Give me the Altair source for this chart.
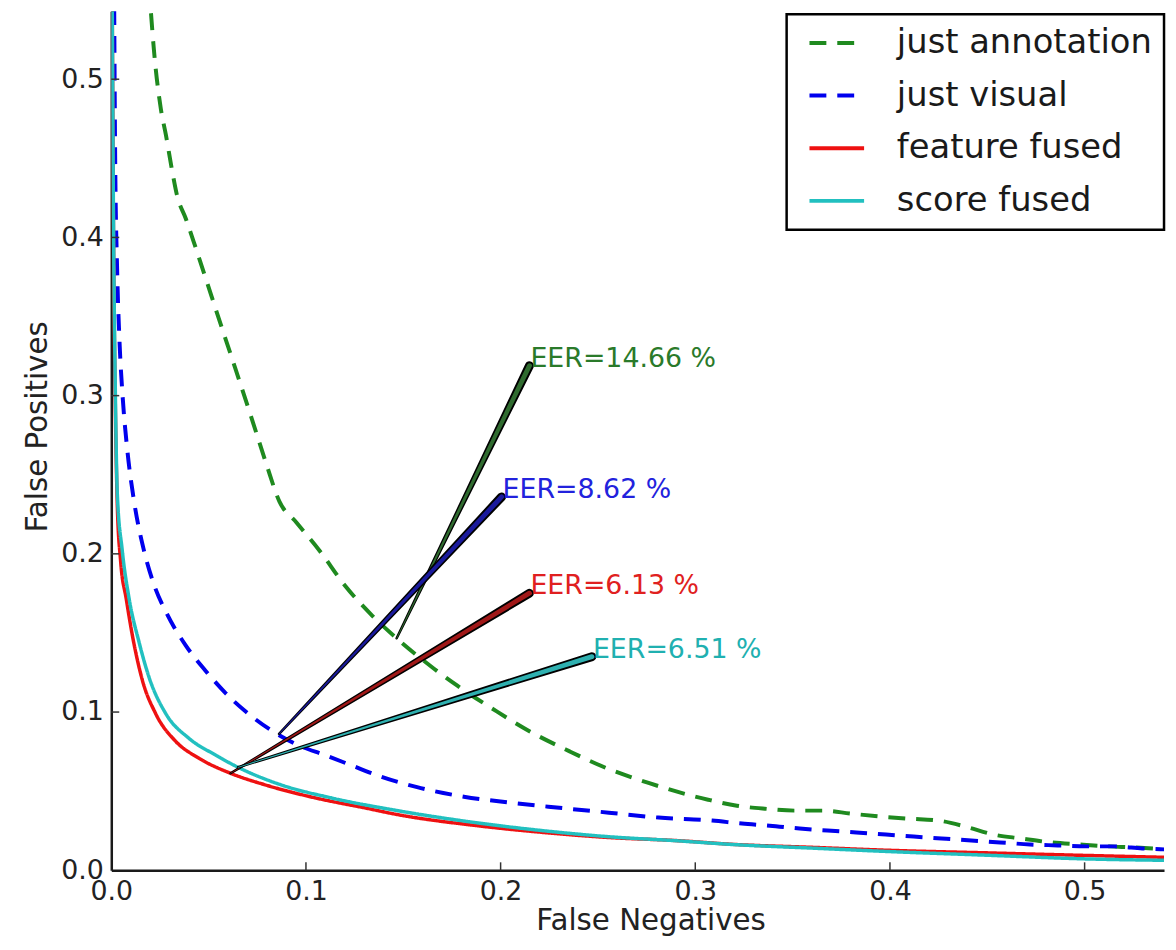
import altair as alt
import pandas as pd

# ---------------- data ----------------
series_names = ["just annotation", "just visual", "feature fused", "score fused"]
series_colors = ["#1f8a1f", "#0000ee", "#ee1111", "#22c0c0"]
series_dash = [[17, 11], [17, 11], [1, 0], [1, 0]]

ann_x = [0.0204, 0.0219, 0.0255, 0.0281, 0.0311, 0.0337, 0.0383, 0.0423, 0.0490, 0.0541,
         0.0635, 0.0728, 0.0796, 0.0864, 0.0950, 0.1070, 0.1200, 0.1340, 0.1466, 0.1658,
         0.1776, 0.1980, 0.2148, 0.2352, 0.2541, 0.2760, 0.2964, 0.3066, 0.3214, 0.3357,
         0.3510, 0.3653, 0.3801, 0.3954, 0.4097, 0.4250, 0.4388, 0.4531, 0.4673, 0.4827,
         0.4974, 0.5128, 0.5260, 0.5408]
ann_y = [0.5417, 0.5185, 0.4809, 0.4645, 0.4432, 0.4269, 0.4118, 0.3974, 0.3723, 0.3530,
         0.3180, 0.2830, 0.2570, 0.2330, 0.2200, 0.2020, 0.1800, 0.1610, 0.1466, 0.1274,
         0.1168, 0.1004, 0.0879, 0.0753, 0.0647, 0.0552, 0.0477, 0.0446, 0.0408, 0.0389,
         0.0377, 0.0377, 0.0358, 0.0339, 0.0326, 0.0314, 0.0276, 0.0226, 0.0201, 0.0176,
         0.0163, 0.0151, 0.0144, 0.0132]

vis_x = [0.0015, 0.0020, 0.0030, 0.0042, 0.0058, 0.0082, 0.0116, 0.0167, 0.0218, 0.0286,
         0.0383, 0.0485, 0.0587, 0.0689, 0.0821, 0.0959, 0.1097, 0.1230, 0.1367, 0.1571,
         0.1811, 0.2046, 0.2301, 0.2556, 0.2811, 0.3087, 0.3240, 0.3383, 0.3536, 0.3679,
         0.3827, 0.3980, 0.4122, 0.4265, 0.4418, 0.4566, 0.4719, 0.4862, 0.5005, 0.5153,
         0.5296, 0.5408]
vis_y = [0.5450, 0.4500, 0.3800, 0.3350, 0.3000, 0.2660, 0.2340, 0.2025, 0.1810, 0.1620,
         0.1420, 0.1260, 0.1120, 0.1005, 0.0885, 0.0791, 0.0728, 0.0665, 0.0600, 0.0525,
         0.0465, 0.0428, 0.0395, 0.0364, 0.0333, 0.0314, 0.0295, 0.0282, 0.0264, 0.0251,
         0.0239, 0.0226, 0.0213, 0.0201, 0.0188, 0.0176, 0.0163, 0.0157, 0.0151, 0.0151,
         0.0138, 0.0132]

feat_x = [0.0005, 0.0012, 0.0020, 0.0031, 0.0048, 0.0077, 0.0109, 0.0160, 0.0228, 0.0330,
          0.0449, 0.0613, 0.0790, 0.1046, 0.1300, 0.1470, 0.1878, 0.2219, 0.2556, 0.2898,
          0.3204, 0.3600, 0.4000, 0.4500, 0.5000, 0.5408]
feat_y = [0.5450, 0.3900, 0.3000, 0.2306, 0.1954, 0.1714, 0.1480, 0.1200, 0.0990, 0.0816,
          0.0709, 0.0613, 0.0540, 0.0458, 0.0395, 0.0352, 0.0282, 0.0239, 0.0207, 0.0188,
          0.0163, 0.0145, 0.0126, 0.0110, 0.0094, 0.0082]

score_x = [0.0005, 0.0012, 0.0020, 0.0031, 0.0056, 0.0092, 0.0143, 0.0194, 0.0280, 0.0398,
           0.0536, 0.0651, 0.0872, 0.1128, 0.1470, 0.1878, 0.2219, 0.2556, 0.2898, 0.3204,
           0.3600, 0.4000, 0.4500, 0.5000, 0.5408]
score_y = [0.5450, 0.4000, 0.3100, 0.2377, 0.2025, 0.1714, 0.1440, 0.1220, 0.0990, 0.0835,
           0.0728, 0.0651, 0.0540, 0.0458, 0.0377, 0.0300, 0.0250, 0.0212, 0.0187, 0.0162,
           0.0140, 0.0118, 0.0095, 0.0072, 0.0063]

eer_labels = ["EER=14.66 %", "EER=8.62 %", "EER=6.13 %", "EER=6.51 %"]
eer_text_colors = ["#2a7a2a", "#2222dd", "#e02020", "#20b0b0"]
eer_arrow_colors = ["#2f6b2f", "#1a1a9c", "#a01818", "#2fb0b0"]
eer_x0 = [0.1466, 0.0862, 0.0613, 0.0651]
eer_y0 = [0.1466, 0.0862, 0.0613, 0.0651]
eer_x1 = [0.2148, 0.2005, 0.2148, 0.2469]
eer_y1 = [0.3189, 0.2360, 0.1751, 0.1350]

axis_values = [0.0, 0.1, 0.2, 0.3, 0.4, 0.5]
x_ticks = [0.1, 0.2, 0.3, 0.4, 0.5]
y_ticks = [0.1, 0.2, 0.3, 0.4, 0.5]

# ---------------- frames ----------------
curves = []
for name, xs, ys in zip(series_names, [ann_x, vis_x, feat_x, score_x],
                        [ann_y, vis_y, feat_y, score_y]):
    for i, (a, b) in enumerate(zip(xs, ys)):
        curves.append({"series": name, "x": a, "y": b, "i": i})
curve_df = pd.DataFrame(curves)

W, H = 1060, 865
FONT = "DejaVu Sans"
xs_scale = alt.Scale(domain=[0, 0.5408], nice=False, zero=False)
ys_scale = alt.Scale(domain=[0, 0.543], nice=False, zero=False)
x_axis = alt.Axis(values=axis_values, format=".1f", title="False Negatives", titleX=543,
                  labelFlush=False)
y_axis = alt.Axis(values=axis_values, format=".1f", title="False Positives", titleY=418,
                  labelFlush=False)


def X(field):
    return alt.X(field, scale=xs_scale, axis=x_axis)


def Y(field):
    return alt.Y(field, scale=ys_scale, axis=y_axis)


legend = alt.Legend(title=None, orient="none", legendX=680, legendY=3,
                    symbolType="stroke", symbolSize=3025, symbolStrokeWidth=4,
                    symbolOffset=9, clipHeight=34,
                    labelFontSize=34, labelFont=FONT, labelColor="#1a1a1a",
                    labelLimit=500, labelOffset=31, padding=12, rowPadding=19,
                    fillColor="white", strokeColor="black")

layers = []
for k, name in enumerate(series_names):
    sw = 4 if k < 2 else 3.5
    layers.append(
        alt.Chart(curve_df).transform_filter(alt.datum.series == name)
        .mark_line(strokeWidth=sw, clip=True, interpolate="monotone").encode(
            x=X("x:Q"),
            y=Y("y:Q"),
            color=alt.Color("series:N", sort=series_names,
                            scale=alt.Scale(domain=series_names, range=series_colors),
                            legend=legend),
            strokeDash=alt.StrokeDash("series:N", sort=series_names,
                                      scale=alt.Scale(domain=series_names, range=series_dash),
                                      legend=legend),
            order=alt.Order("i:Q"),
        )
    )

# arrows (tapered trails) and labels
for k in range(4):
    adf = pd.DataFrame({
        "x": [eer_x0[k], eer_x1[k]],
        "y": [eer_y0[k], eer_y1[k]],
        "wo": [2.5, 9.0],
        "wi": [0.8, 5.0],
    })
    base = alt.Chart(adf)
    layers.append(base.mark_trail(color="black").encode(
        x=X("x:Q"), y=Y("y:Q"),
        size=alt.Size("wo:Q", scale=None, legend=None)))
    layers.append(base.mark_trail(color=eer_arrow_colors[k]).encode(
        x=X("x:Q"), y=Y("y:Q"),
        size=alt.Size("wi:Q", scale=None, legend=None)))
    tdf = pd.DataFrame({"x": [eer_x1[k]], "y": [eer_y1[k]], "t": [eer_labels[k]]})
    layers.append(alt.Chart(tdf).mark_text(
        align="left", baseline="alphabetic", dx=1, dy=1, font=FONT, fontSize=27,
        color=eer_text_colors[k]).encode(x=X("x:Q"), y=Y("y:Q"), text="t:N"))

# inward ticks
xt = pd.DataFrame({"v": x_ticks})
yt = pd.DataFrame({"v": y_ticks})
layers.append(alt.Chart(xt).mark_rule(color="#333", strokeWidth=1.5).encode(
    x=X("v:Q"), y=alt.value(H), y2=alt.value(H - 8)))
layers.append(alt.Chart(yt).mark_rule(color="#333", strokeWidth=1.5).encode(
    y=Y("v:Q"), x=alt.value(0), x2=alt.value(8)))

chart = alt.layer(*layers).properties(
    width=W, height=H,
    autosize=alt.AutoSizeParams(type="none"),
    padding={"left": 104, "top": 0, "right": 4, "bottom": 66},
    background="white",
).configure_view(stroke=None).configure_axis(
    domainColor="#1a1a1a", domainWidth=2.5, ticks=False, grid=False,
    labelFont=FONT, labelFontSize=27, labelColor="#222", labelPadding=8,
    titleFont=FONT, titleFontSize=29.5, titleFontWeight="normal", titleColor="#222",
).configure_axisX(titlePadding=3).configure_axisY(titlePadding=8).configure_legend(
    strokeWidth=2.5)

chart.save("out.html", embed_options={"renderer": "svg", "actions": False})
